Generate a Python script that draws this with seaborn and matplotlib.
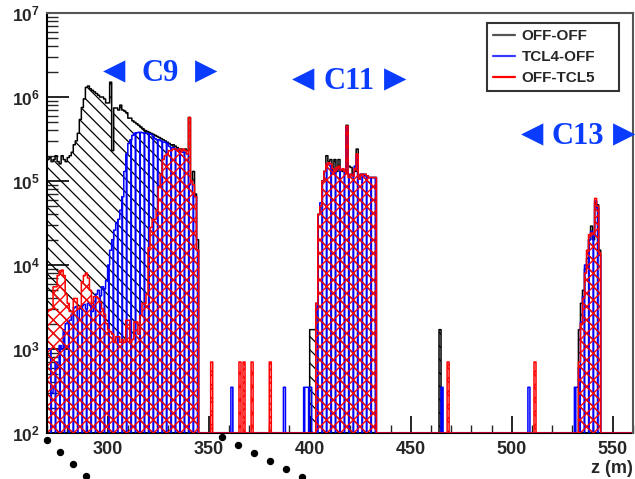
import numpy as np
import pandas as pd
import matplotlib
matplotlib.use("Agg")
import matplotlib.pyplot as plt
from matplotlib.lines import Line2D
from matplotlib.ticker import MultipleLocator, LogLocator, LogFormatterSciNotation, NullFormatter
import matplotlib.transforms as mtransforms
import seaborn as sns

# ---------------- data (1 m bins, value = entries in bin starting at z) ----------------
z_lo, z_hi, bin_width = 270, 560, 1.0
series_names = ["OFF-OFF", "TCL4-OFF", "OFF-TCL5"]

c9_start = 270
offoff_c9 = [1.8e5, 1.9e5, 1.7e5, 1.8e5, 2.0e5, 1.7e5, 1.6e5, 2.0e5, 1.8e5, 1.7e5,
             1.9e5, 2.0e5, 2.2e5, 2.7e5, 3.0e5, 3.7e5, 5.4e5, 7.5e5, 9.5e5, 1.3e6,
             1.35e6, 1.25e6, 1.2e6, 1.15e6, 1.1e6, 1.05e6, 1.0e6, 1.0e6, 9.5e5, 8.5e5,
             8.5e5, 1.5e6, 2.3e5, 7.4e5, 7.4e5, 7.0e5, 8.0e5, 7.0e5, 6.8e5, 6.5e5,
             5.6e5, 5.6e5, 5.2e5, 5.0e5, 4.8e5, 4.6e5, 4.4e5, 4.2e5, 4.0e5, 3.9e5,
             3.8e5, 3.7e5, 3.6e5, 3.5e5, 3.4e5, 3.3e5, 3.2e5, 3.1e5, 3.0e5, 2.9e5,
             2.8e5, 2.7e5, 2.7e5, 2.6e5, 2.5e5, 2.4e5, 2.4e5, 2.3e5, 2.4e5, 2.3e5,
             5.7e5, 1.0e5, 1.3e5, 7.0e4, 2.0e4]
tcl4_c9 = [1.0e3, 1.0e3, 3.0e2, 3.5e2, 7.0e2, 6.0e2, 1.1e3, 1.0e3, 1.7e3, 2.0e3,
           2.1e3, 2.2e3, 2.6e3, 3.1e3, 3.2e3, 2.3e3, 3.0e3, 3.3e3, 3.4e3, 3.0e3,
           3.5e3, 3.3e3, 2.8e3, 3.7e3, 4.5e3, 5.0e3, 4.3e3, 5.5e3, 5.2e3, 6.5e3,
           1.0e4, 1.5e4, 2.0e4, 2.6e4, 3.2e4, 3.5e4, 4.5e4, 6.5e4, 1.3e5, 2.1e5,
           2.8e5, 3.1e5, 3.5e5, 3.7e5, 3.75e5, 3.8e5, 3.8e5, 3.75e5, 3.7e5, 3.7e5,
           3.65e5, 3.6e5, 3.4e5, 3.2e5, 3.1e5, 3.1e5, 3.0e5, 2.9e5, 2.9e5, 2.8e5,
           2.6e5, 2.5e5, 2.5e5, 2.4e5, 2.4e5, 2.3e5, 2.3e5, 2.2e5, 2.2e5, 2.1e5,
           9.0e4, 1.0e5, 7.0e4, 6.5e4, 1.5e4]
tcl5_c9 = [2.9e3, 2.9e3, 3.0e3, 5.5e3, 5.5e3, 7.5e3, 8.5e3, 8.7e3, 7.5e3, 4.5e3,
           3.5e3, 2.8e3, 2.8e3, 4.0e3, 4.0e3, 3.0e3, 3.2e3, 6.3e3, 7.5e3, 8.0e3,
           7.0e3, 5.0e3, 3.5e3, 4.2e3, 4.2e3, 4.0e3, 3.6e3, 3.0e3, 2.6e3, 2.0e3,
           1.7e3, 1.6e3, 1.5e3, 1.2e3, 1.4e3, 1.4e3, 1.2e3, 1.3e3, 1.2e3, 2.2e3,
           2.2e3, 1.2e3, 1.3e3, 2.1e3, 2.1e3, 1.5e3, 2.5e3, 3.5e3, 3.5e3, 4.5e3,
           1.6e4, 2.8e4, 3.5e4, 3.5e4, 4.5e4, 8.5e4, 1.2e5, 1.8e5, 2.0e5, 2.1e5,
           2.3e5, 2.3e5, 2.4e5, 2.4e5, 2.3e5, 2.4e5, 2.3e5, 2.4e5, 2.3e5, 2.1e5,
           5.7e5, 1.0e5, 9.0e4, 6.5e4, 1.5e4]

c11_start = 397
offoff_c11 = [0, 0, 0, 1.7e3, 1.7e3, 1.7e3, 3.0e3, 4.0e4, 5.0e4, 1.0e5,
              1.3e5, 2.0e5, 1.7e5, 1.8e5, 1.35e5, 1.8e5, 1.3e5, 1.8e5, 1.35e5, 1.3e5,
              1.3e5, 4.6e5, 1.5e5, 1.45e5, 1.15e5, 1.3e5, 2.4e5, 1.05e5, 1.2e5, 1.2e5,
              1.2e5, 1.15e5, 1.1e5, 1.1e5, 1.1e5, 1.1e5]
tcl4_c11 = [3.5e2, 3.5e2, 3.5e2, 3.5e2, 0, 0, 3.5e3, 4.0e4, 5.5e4, 1.0e5,
            1.3e5, 1.6e5, 1.6e5, 1.5e5, 1.3e5, 1.25e5, 1.4e5, 1.45e5, 1.35e5, 1.35e5,
            1.3e5, 4.4e5, 1.2e5, 1.2e5, 1.15e5, 1.5e5, 2.0e5, 1.05e5, 1.2e5, 1.2e5,
            1.15e5, 1.15e5, 1.1e5, 1.1e5, 1.1e5, 1.1e5]
tcl5_c11 = [0, 0, 0, 0, 0, 0, 3.5e3, 4.0e4, 5.0e4, 1.0e5,
            1.3e5, 1.6e5, 1.65e5, 1.6e5, 1.4e5, 1.3e5, 1.45e5, 1.5e5, 1.35e5, 1.4e5,
            1.3e5, 4.5e5, 1.1e5, 1.2e5, 1.15e5, 1.4e5, 2.1e5, 1.05e5, 1.2e5, 1.2e5,
            1.2e5, 1.15e5, 1.1e5, 1.1e5, 1.1e5, 1.1e5]

c13_start = 531
offoff_c13 = [0, 0, 1.7e3, 3.5e3, 5.0e3, 9.0e3, 1.2e4, 2.0e4, 2.9e4, 2.0e4, 5.5e4, 5.2e4, 1.5e4]
tcl4_c13 = [3.5e2, 3.5e2, 6.0e2, 2.1e3, 4.2e3, 1.0e4, 1.0e4, 2.0e4, 2.5e4, 2.2e4, 5.8e4, 4.8e4, 1.3e4]
tcl5_c13 = [0, 0, 7.0e2, 2.0e3, 4.0e3, 8.0e3, 1.5e4, 2.3e4, 2.4e4, 2.4e4, 6.2e4, 5.0e4, 1.4e4]

offoff_spike_z = [464]
offoff_spike_n = [1.7e3]
tcl4_spike_z = [361, 387, 465, 508]
tcl4_spike_n = [3.5e2, 3.5e2, 3.5e2, 3.5e2]
tcl5_spike_z = [351, 365, 367, 371, 380, 468, 511]
tcl5_spike_n = [7.0e2, 7.0e2, 7.0e2, 7.0e2, 7.0e2, 7.0e2, 7.0e2]

collimator_labels = ["C9", "C11", "C13"]
collimator_z = [326.2, 419.6, 532.8]

# ---------------- style / layout ----------------
W, H, DPI = 635, 479, 80
K = 100.0 / DPI          # sizes below are given as if at 100 dpi
ax_left_px, ax_right_px, ax_top_px, ax_bot_px = 47, 633, 13, 433
legend_box_px = (487, 23, 619, 92)  # left, top, right, bottom
label_yfrac = [0.857, 0.836, 0.705]
tri_offset_px = 46
label_color = "#0a3cff"
colors = {"OFF-OFF": "#000000", "TCL4-OFF": "#0000ff", "OFF-TCL5": "#ff0000"}
hatches = {"OFF-OFF": "\\\\", "TCL4-OFF": "|||", "OFF-TCL5": "xx"}
hatch_lw = {"OFF-OFF": 0.9, "TCL4-OFF": 1.5, "OFF-TCL5": 1.0}
legend_colors = {"OFF-OFF": "#555555", "TCL4-OFF": "#3a3aff", "OFF-TCL5": "#ff0000"}
dot_x_px = [47, 60, 73, 86, 222, 238, 254, 270, 286, 302]
dot_y_px = [440, 452, 464, 476, 437, 445, 453, 461, 469, 477]

# ---------------- build table ----------------
edges = np.arange(z_lo, z_hi + bin_width / 2, bin_width)
centers = edges[:-1] + bin_width / 2


def build(regions, spike_z, spike_n):
    counts = np.zeros(len(centers))
    for start, vals in regions:
        i0 = int(round((start - z_lo) / bin_width))
        counts[i0:i0 + len(vals)] = vals
    for z, n in zip(spike_z, spike_n):
        counts[int(round((z - z_lo) / bin_width))] = n
    return counts


counts = {
    "OFF-OFF": build([(c9_start, offoff_c9), (c11_start, offoff_c11), (c13_start, offoff_c13)],
                     offoff_spike_z, offoff_spike_n),
    "TCL4-OFF": build([(c9_start, tcl4_c9), (c11_start, tcl4_c11), (c13_start, tcl4_c13)],
                      tcl4_spike_z, tcl4_spike_n),
    "OFF-TCL5": build([(c9_start, tcl5_c9), (c11_start, tcl5_c11), (c13_start, tcl5_c13)],
                      tcl5_spike_z, tcl5_spike_n),
}
df = pd.concat([pd.DataFrame({"z": centers, "n": counts[s], "series": s}) for s in series_names],
               ignore_index=True)

# ---------------- plot ----------------
sns.set_theme(style="white")
plt.rcParams["font.family"] = ["Liberation Sans", "DejaVu Sans"]
plt.rcParams["font.weight"] = "bold"
plt.rcParams["mathtext.fontset"] = "custom"
plt.rcParams["mathtext.rm"] = "Liberation Sans:bold"
plt.rcParams["mathtext.bf"] = "Liberation Sans:bold"
plt.rcParams["mathtext.default"] = "bf"

fig = plt.figure(figsize=(W / DPI, H / DPI), dpi=DPI)
ax = fig.add_axes([ax_left_px / W, 1 - ax_bot_px / H,
                   (ax_right_px - ax_left_px) / W, (ax_bot_px - ax_top_px) / H])
ax.set_yscale("log")

ymin = 1e2
for s in series_names:
    sub = df[df["series"] == s].copy()
    # ROOT draws empty bins on the axis minimum
    sub["n_draw"] = np.where(sub["n"] > 0, sub["n"], ymin)
    with plt.rc_context({"hatch.color": colors[s], "hatch.linewidth": hatch_lw[s] * K}):
        sns.histplot(data=sub, x="z", weights="n_draw", binwidth=bin_width,
                     binrange=(z_lo, z_hi), element="step",
                     fill=True, color=colors[s], facecolor="none", edgecolor=colors[s],
                     hatch=hatches[s], linewidth=1.1 * K, ax=ax)
    art = ax.collections[-1]
    if hasattr(art, "set_hatch_linewidth"):
        art.set_hatch_linewidth(hatch_lw[s] * K)

ax.set_xlim(z_lo, z_hi)
ax.set_ylim(ymin, 1e7)
ax.set_xlabel("z (m)", loc="right", fontsize=13 * K, fontweight="bold", labelpad=1 * K)
ax.set_ylabel("")

ax.xaxis.set_major_locator(MultipleLocator(50))
ax.xaxis.set_minor_locator(MultipleLocator(10))
ax.yaxis.set_major_locator(LogLocator(base=10))
ax.yaxis.set_minor_locator(LogLocator(base=10, subs=np.arange(2, 10)))
ax.yaxis.set_major_formatter(LogFormatterSciNotation())
ax.yaxis.set_minor_formatter(NullFormatter())
ax.tick_params(axis="x", which="major", direction="in", length=12 * K, width=1.2 * K,
               bottom=True, top=False, labelsize=13 * K, pad=6 * K, color="black")
ax.tick_params(axis="x", which="minor", direction="in", length=6 * K, width=1.0 * K,
               bottom=True, top=False)
ax.tick_params(axis="y", which="major", direction="in", length=16 * K, width=1.2 * K,
               left=True, right=False, labelsize=12.5 * K, pad=5 * K, color="black")
ax.tick_params(axis="y", which="minor", direction="in", length=8 * K, width=1.0 * K,
               left=True, right=False)
for lab in ax.get_xticklabels() + ax.get_yticklabels():
    lab.set_fontweight("bold")

for side in ["left", "bottom"]:
    ax.spines[side].set_color("black")
    ax.spines[side].set_linewidth(1.5 * K)
for side in ["top", "right"]:
    ax.spines[side].set_color("#555555")
    ax.spines[side].set_linewidth(1.5 * K)
ax.spines["bottom"].set_zorder(0.5)

# legend with a fixed (ROOT-like) box
lx0 = (legend_box_px[0] - ax_left_px) / (ax_right_px - ax_left_px)
lx1 = (legend_box_px[2] - ax_left_px) / (ax_right_px - ax_left_px)
ly1 = (ax_bot_px - legend_box_px[1]) / (ax_bot_px - ax_top_px)
ly0 = (ax_bot_px - legend_box_px[3]) / (ax_bot_px - ax_top_px)
handles = [Line2D([0], [0], color=legend_colors[s], lw=1.6 * K) for s in series_names]
leg = ax.legend(handles, series_names, loc="upper left",
                bbox_to_anchor=(lx0, ly0, lx1 - lx0, ly1 - ly0), mode="expand",
                borderaxespad=0, frameon=True, fancybox=False, edgecolor="black",
                prop={"weight": "bold", "size": 11 * K}, handlelength=1.45, handletextpad=0.4,
                labelspacing=0.45, borderpad=0.4)
leg.get_frame().set_linewidth(1.5 * K)

# collimator labels
blend = mtransforms.blended_transform_factory(ax.transData, ax.transAxes)
for name, zc, yf in zip(collimator_labels, collimator_z, label_yfrac):
    ax.text(zc, yf, name, transform=blend, ha="center", va="center", color=label_color,
            fontsize=22 * K, fontweight="bold", family=["Liberation Serif", "DejaVu Serif"])
    for sign, glyph in ((-1, "\u25C0"), (1, "\u25B6")):
        tr = blend + mtransforms.ScaledTranslation(sign * tri_offset_px / DPI, 2 / DPI,
                                                   fig.dpi_scale_trans)
        ax.text(zc, yf, glyph, transform=tr, ha="center", va="center", color=label_color,
                fontsize=21 * K, family=["DejaVu Sans"], clip_on=False)

# stray dots below the frame
fig.add_artist(Line2D(np.array(dot_x_px) / W, 1 - np.array(dot_y_px) / H, ls="none",
                      marker="o", ms=4.5 * K, color="black", transform=fig.transFigure))

fig.savefig("out.png", dpi=DPI)
